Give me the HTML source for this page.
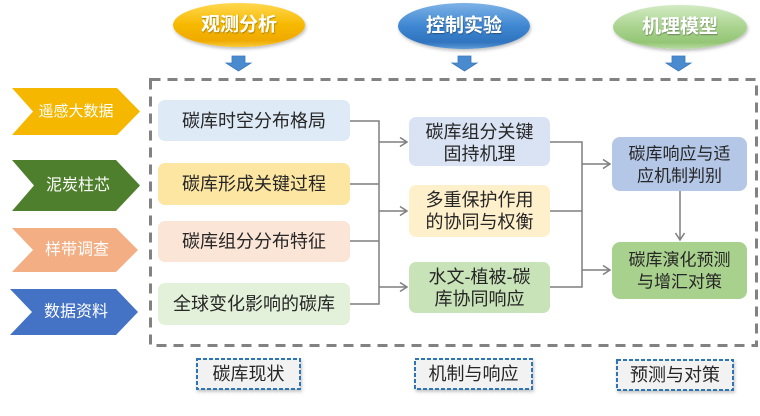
<!DOCTYPE html>
<html><head><meta charset="utf-8"><style>
html,body{margin:0;padding:0;background:#fff;}
svg{display:block;}
text{font-family:"Liberation Sans","Noto Sans CJK SC",sans-serif;}
</style></head><body>
<svg width="760" height="416" viewBox="0 0 760 416" xmlns="http://www.w3.org/2000/svg">
<defs>
<linearGradient id="gGold" x1="0" y1="0" x2="0" y2="1">
<stop offset="0" stop-color="#FFD84F"/><stop offset="0.5" stop-color="#F7B800"/><stop offset="0.85" stop-color="#EFA900"/><stop offset="1" stop-color="#F9CB3A"/></linearGradient>
<linearGradient id="gBlue" x1="0" y1="0" x2="0" y2="1">
<stop offset="0" stop-color="#7DB2E6"/><stop offset="0.5" stop-color="#3F87D2"/><stop offset="0.85" stop-color="#2F73BE"/><stop offset="1" stop-color="#5E9BD8"/></linearGradient>
<linearGradient id="gGreen" x1="0" y1="0" x2="0" y2="1">
<stop offset="0" stop-color="#D3EBC4"/><stop offset="0.5" stop-color="#A9D38E"/><stop offset="0.85" stop-color="#94C575"/><stop offset="1" stop-color="#B9DCA3"/></linearGradient>
<filter id="sh" x="-20%" y="-20%" width="140%" height="160%"><feDropShadow dx="1" dy="2" stdDeviation="1.5" flood-color="#000" flood-opacity="0.25"/></filter>
<filter id="tsh"><feDropShadow dx="0.5" dy="1" stdDeviation="0.6" flood-color="#000" flood-opacity="0.35"/></filter>
</defs>

<!-- ovals -->
<ellipse cx="239" cy="25" rx="66" ry="22" fill="url(#gGold)" filter="url(#sh)"/>
<ellipse cx="464" cy="26" rx="66" ry="23" fill="url(#gBlue)" filter="url(#sh)"/>
<ellipse cx="680" cy="27" rx="67" ry="22" fill="url(#gGreen)" filter="url(#sh)"/>
<g fill="#fff" font-size="19" font-weight="bold" text-anchor="middle" dominant-baseline="central" filter="url(#tsh)">
<text x="239" y="25">观测分析</text>
<text x="464" y="26">控制实验</text>
<text x="680" y="27">机理模型</text>
</g>

<!-- block arrows -->
<g fill="#4A8BD0" stroke="#3A78BC" stroke-width="0.8">
<polygon points="232,56 245,56 245,63 251,63 238.5,71 226,63 232,63"/>
<polygon points="458,56 471,56 471,63 477,63 464.5,71 452,63 458,63"/>
<polygon points="672,56 685,56 685,63 691,63 678.5,71 666,63 672,63"/>
</g>

<!-- main dashed frame -->
<rect x="150.5" y="79.5" width="606" height="266" fill="none" stroke="#828282" stroke-width="3" stroke-dasharray="10 7"/>

<!-- chevrons -->
<polygon points="12,88 117,88 140,111.5 117,135 12,135 33,111.5" fill="#F5B700"/>
<polygon points="12,160 116,160 140,185.5 116,211 12,211 34,185.5" fill="#4E7F2D"/>
<polygon points="12,228 116,228 138,250 116,272 12,272 33,250" fill="#F3AE83"/>
<polygon points="10,289 116,289 138,312 116,335 10,335 32,312" fill="#4472C4"/>
<g fill="#fff" text-anchor="middle" dominant-baseline="central">
<text x="76" y="111.5" font-size="15">遥感大数据</text>
<text x="78" y="185.5" font-size="16">泥炭柱芯</text>
<text x="77" y="250" font-size="16">样带调查</text>
<text x="76" y="312" font-size="16">数据资料</text>
</g>

<!-- column 1 boxes -->
<rect x="158" y="100" width="192" height="41" rx="7" fill="#DEEAF6"/>
<rect x="158" y="163" width="192" height="42" rx="7" fill="#FDE6A2"/>
<rect x="158" y="221" width="192" height="41" rx="7" fill="#FBE5D7"/>
<rect x="158" y="283" width="192" height="42" rx="7" fill="#E3F0DA"/>
<g fill="#262626" font-size="18" text-anchor="middle" dominant-baseline="central">
<text x="254" y="121">碳库时空分布格局</text>
<text x="254" y="184">碳库形成关键过程</text>
<text x="254" y="241.5">碳库组分分布特征</text>
<text x="254" y="304">全球变化影响的碳库</text>
</g>

<!-- column 2 boxes -->
<rect x="409" y="117" width="141" height="49" rx="7" fill="#DAE3F3"/>
<rect x="409" y="185" width="141" height="52" rx="7" fill="#FFF0CC"/>
<rect x="409" y="262" width="141" height="51" rx="7" fill="#C9E3B8"/>
<g fill="#262626" font-size="18" text-anchor="middle" dominant-baseline="central">
<text x="479.5" y="132">碳库组分关键</text>
<text x="479.5" y="154">固持机理</text>
<text x="479.5" y="200">多重保护作用</text>
<text x="479.5" y="222">的协同与权衡</text>
<text x="479.5" y="277">水文-植被-碳</text>
<text x="479.5" y="299">库协同响应</text>
</g>

<!-- column 3 boxes -->
<rect x="612" y="137" width="135" height="54" rx="8" fill="#B4C7E7"/>
<rect x="612" y="242" width="135" height="57" rx="8" fill="#A9D18E"/>
<g fill="#262626" font-size="17" text-anchor="middle" dominant-baseline="central">
<text x="679.5" y="154">碳库响应与适</text>
<text x="679.5" y="176">应机制判别</text>
<text x="679.5" y="260">碳库演化预测</text>
<text x="679.5" y="282">与增汇对策</text>
</g>

<!-- connectors -->
<g stroke="#7F7F7F" stroke-width="1.5" fill="none">
<path d="M350 121H379M350 184H379M350 241H379M350 304H379M379 120.3V304.7"/>
<path d="M379 142H407M379 211H407M379 287H407"/>
<path d="M400 137.5L407 142L400 146.5M400 206.5L407 211L400 215.5M400 282.5L407 287L400 291.5"/>
<path d="M550 142H582M550 211H582M550 287H582M582 141.3V287.7"/>
<path d="M582 164H610M582 270H610"/>
<path d="M603 159.5L610 164L603 168.5M603 265.5L610 270L603 274.5"/>
<path d="M680 191V240M675.5 233L680 240L684.5 233"/>
</g>

<!-- bottom labels -->
<g filter="url(#sh)">
<rect x="197" y="359" width="103" height="30" fill="#F2F2F2" stroke="#2E75B6" stroke-width="2" stroke-dasharray="4 2"/>
<rect x="415" y="359" width="117" height="30" fill="#F2F2F2" stroke="#2E75B6" stroke-width="2" stroke-dasharray="4 2"/>
<rect x="617" y="360" width="116" height="30" fill="#F2F2F2" stroke="#2E75B6" stroke-width="2" stroke-dasharray="4 2"/>
</g>
<g fill="#262626" font-size="18" text-anchor="middle" dominant-baseline="central">
<text x="248.5" y="374">碳库现状</text>
<text x="473.5" y="374">机制与响应</text>
<text x="675" y="375">预测与对策</text>
</g>
</svg>
</body></html>
